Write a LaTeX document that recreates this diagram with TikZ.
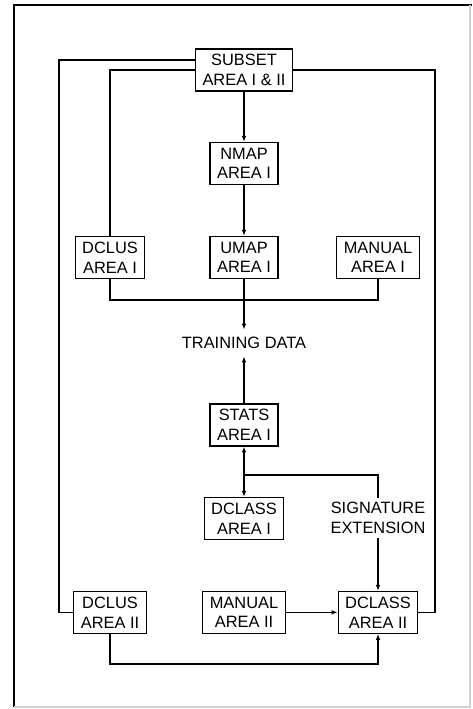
\documentclass[tikz,border=0pt]{standalone}
\usepackage{fontspec}
\setmainfont{Liberation Sans}
\usetikzlibrary{arrows.meta, calc}

\begin{document}
\begin{tikzpicture}[font=\fontsize{14}{17}\selectfont, line width=1.1pt,
  >={Latex[length=5pt,width=4pt]},
  box/.style={draw, align=center, inner xsep=6pt, inner ysep=4.5pt}]
  \useasboundingbox (0,0) rectangle (14.16,21.27);
  % Frame
  \draw[line width=2pt] (0.42,0.06) -- (0.42,21.12) -- (14.16,21.12);
  \draw[gray!35] (14.1,21.12) -- (14.1,0.06) -- (0.42,0.06);

  % Boxes
  \node[box] (subset)  at (7.32,19.17) {SUBSET\\AREA I \& II};
  \node[box] (nmap)    at (7.32,16.37) {NMAP\\AREA I};
  \node[box] (dclusA)  at (3.30,13.55) {DCLUS\\AREA I};
  \node[box] (umap)    at (7.32,13.55) {UMAP\\AREA I};
  \node[box] (manualA) at (11.34,13.55) {MANUAL\\AREA I};
  \node[box] (stats)   at (7.32,8.52) {STATS\\AREA I};
  \node[box] (dclassA) at (7.32,5.72) {DCLASS\\AREA I};
  \node[box] (dclusB)  at (3.30,2.90) {DCLUS\\AREA II};
  \node[box] (manualB) at (7.32,2.90) {MANUAL\\AREA II};
  \node[box] (dclassB) at (11.34,2.90) {DCLASS\\AREA II};
  \node[inner sep=6pt] (train) at (7.32,10.98) {TRAINING DATA};
  \node[align=center] (sigext) at (11.34,5.73) {SIGNATURE\\EXTENSION};

  % Turning points
  \coordinate (lout) at (1.77,19.47);
  \coordinate (rout) at (13.05,19.17);
  \coordinate (merge) at (7.32,12.27);
  \coordinate (split) at (7.32,7.02);
  \coordinate (loop) at (7.32,1.35);

  % Connectors
  \draw[->] (subset) -- (nmap);
  \draw[->] (nmap) -- (umap);
  \draw[->] (umap) -- (train);
  \draw (dclusA.south) |- (merge) -| (manualA.south);
  \draw (subset.west) -| (dclusA.north);
  \draw (subset.west |- lout) -- (lout) |- (dclusB.west);
  \draw (subset.east) -- (rout) |- (dclassB.east);
  \draw[->] (stats) -- (train);
  \draw[<->] (stats) -- (dclassA);
  \draw (split) -| (sigext.north);
  \draw[->] (sigext) -- (dclassB);
  \draw[->] (manualB) -- (dclassB);
  \draw[->] (dclusB.south) |- (loop -| dclassB.south) -- (dclassB.south);
\end{tikzpicture}
\end{document}
